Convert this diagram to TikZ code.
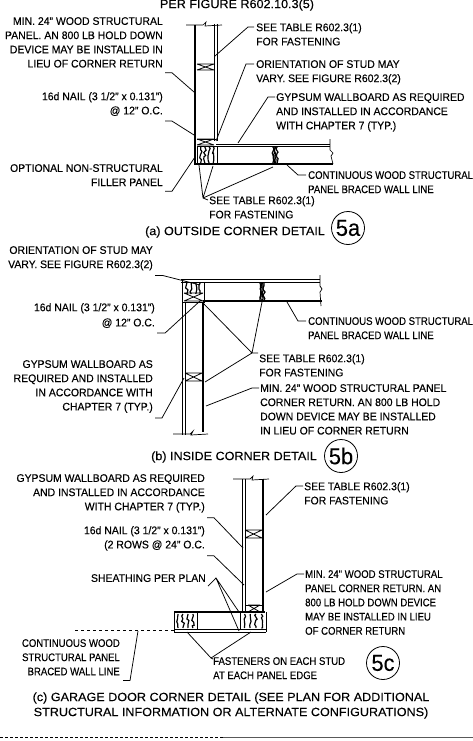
\documentclass[tikz,border=0pt]{standalone}
\usepackage{fontspec}
\setmainfont{Liberation Sans}[FakeStretch=0.95,FakeBold=0.15]
\newfontfamily\narrowfam{Liberation Sans}[FakeStretch=0.87,FakeBold=0.15]
\newfontfamily\widefam{Liberation Sans}[FakeStretch=1.05,FakeBold=0.15]
\usetikzlibrary{decorations.pathmorphing}
\newcommand{\lab}{\fontsize{11}{14.2}\selectfont}
\newcommand{\labn}{\narrowfam\fontsize{11}{14.2}\selectfont}
\newcommand{\captfont}{\widefam\fontsize{12}{15}\selectfont}
\tikzset{
  x=1pt,y=1pt,
  lr/.style={inner sep=0pt,font=\lab,align=right,anchor=north east},
  ll/.style={inner sep=0pt,font=\lab,align=left,anchor=north west},
  lln/.style={ll,font=\labn},
  lrn/.style={lr,font=\labn},
  capt/.style={inner sep=0pt,font=\captfont,align=center},
  lead/.style={line width=0.75pt},
  thin wall/.style={line width=0.7pt},
  thick wall/.style={line width=1.8pt},
  sheath/.style={line width=1.5pt,densely dotted},
  grain/.style={line width=1.2pt,decorate,decoration={random steps,segment length=2.5pt,amplitude=1.4pt}},
  badge/.style={circle,draw,line width=0.8pt,minimum size=33pt,inner sep=0pt,font=\fontsize{23}{23}\selectfont}
}
% wood grain: several wavy strokes in a rectangle
\newcommand{\grainbox}[4]{%
  \foreach \t in {0.15,0.38,0.62,0.85}{%
    \draw[grain] ({#1+\t*(#3-#1)},#2) -- ({#1+\t*(#3-#1)},#4);}}
% blocking with a cross
\newcommand{\crossbox}[4]{%
  \draw[line width=0.8pt] (#1,#2) -- (#3,#2) (#1,#4) -- (#3,#4) (#1,#2) -- (#3,#4) (#1,#4) -- (#3,#2);}
\begin{document}
\begin{tikzpicture}[y=-1pt,x=1pt]
\useasboundingbox (0,0) rectangle (473,741);
\fill[white] (0,0) rectangle (473,741);

% ---------- title
\node[capt] (title) at (237,5) {PER FIGURE R602.10.3(5)};

% ---------- detail a
\draw[thick wall] (195,25) -- (195,165);
\draw[thin wall] (214,24) -- (214,141) (217,24) -- (217,141);
\draw[thin wall] (186,25) -- (203,25) -- (206,22) -- (205,26) -- (222,25);
\crossbox{197}{64}{214}{70}
\draw[thin wall] (197,139) -- (216,139) (197,146) -- (216,146);
\crossbox{197}{139}{214}{145}
\draw[thin wall] (216,144) -- (330,144) (216,146) -- (330,146);
\draw[thick wall] (195,164) -- (333,164);
\draw[thin wall] (330,139) -- (330,150) -- (333,153) -- (331,156) -- (333,164);
\grainbox{198}{147}{216}{163}
\draw[thin wall] (197,147) -- (197,164) (217,146) -- (217,164);
\grainbox{272}{147}{278}{163}

\node[lr] (a1) at (163,17) {MIN. 24" WOOD STRUCTURAL\\PANEL. AN 800 LB HOLD DOWN\\DEVICE MAY BE INSTALLED IN\\LIEU OF CORNER RETURN};
\node[lr] (a2) at (163,92) {16d NAIL (3 1/2" x 0.131")\\@ 12" O.C.};
\node[lr] (a3) at (163,164) {OPTIONAL NON-STRUCTURAL\\FILLER PANEL};
\node[ll] (a4) at (256,23) {SEE TABLE R602.3(1)\\FOR FASTENING};
\node[ll] (a5) at (256,60) {ORIENTATION OF STUD MAY\\VARY. SEE FIGURE R602.3(2)};
\node[ll] (a6) at (276,93) {GYPSUM WALLBOARD AS REQUIRED\\AND INSTALLED IN ACCORDANCE\\WITH CHAPTER 7 (TYP.)};
\node[lln] (a7) at (308,171) {CONTINUOUS WOOD STRUCTURAL\\PANEL BRACED WALL LINE};
\node[ll] (a8) at (209,196) {SEE TABLE R602.3(1)\\FOR FASTENING};
\coordinate (pa1) at (194,92); \coordinate (pa2) at (194,135); \coordinate (pa3) at (195,157);
\coordinate (pa4) at (215,56); \coordinate (pa5) at (216,141); \coordinate (pa6) at (238,143);
\coordinate (pa7) at (287,165); \coordinate (ja8) at (203,198);
\coordinate (pa8a) at (199,165); \coordinate (pa8b) at (213,166); \coordinate (pa8c) at (273,167);
\draw[lead] ([yshift=-5pt]a1.south east) ++(2,0) -- ++(7,0) -- (pa1);
\draw[lead] ([yshift=-5pt]a2.south east) ++(2,0) -- ++(7,0) -- (pa2);
\draw[lead] ([yshift=-5pt]a3.south east) ++(2,0) -- ++(7,0) -- (pa3);
\draw[lead] ([yshift=-4pt]a4.north west) ++(-2,0) -- ++(-6,0) -- (pa4);
\draw[lead] ([yshift=-4pt]a5.north west) ++(-2,0) -- ++(-8,0) -- (pa5);
\draw[lead] ([yshift=-4pt]a6.north west) ++(-1,0) -- ++(-7,0) -- (pa6);
\draw[lead] ([yshift=-4pt]a7.north west) ++(-2,0) -- ++(-8,0) -- (pa7);
\draw[lead] (a8.north west) ++(-1,4) -- (ja8) -- (pa8a) (ja8) -- (pa8b) (ja8) -- (pa8c);
\node[capt] (capa) at (235,232) {(a) OUTSIDE CORNER DETAIL};
\node[badge] (b5a) at (348,228) {5a};

% ---------- detail b
\draw[thin wall] (182,279) -- (182,435) (185,302) -- (185,435);
\draw[thick wall] (203,302) -- (203,432);
\draw[thin wall] (173,434) -- (190,434) -- (193,431) -- (191,435) -- (208,434);
\crossbox{185}{373}{202}{381}
\draw[thin wall] (181,279) -- (320,279) (181,282) -- (320,282);
\draw[thick wall] (203,301) -- (322,301);
\draw[thin wall] (320,275) -- (320,286) -- (322,289) -- (320,292) -- (321,306);
\draw[thin wall] (182,279) -- (182,302) -- (204,302) -- (204,282);
\grainbox{184}{283}{203}{294}
\crossbox{184}{293}{203}{301}
\grainbox{259}{283}{265}{300}
\draw[thin wall] (204,283) -- (204,300);

\node[lr] (b1) at (153,246) {ORIENTATION OF STUD MAY\\VARY. SEE FIGURE R602.3(2)};
\node[lr] (b2) at (155,303) {16d NAIL (3 1/2" x 0.131")\\[1pt]@ 12" O.C.};
\node[lr] (b3) at (153,360) {GYPSUM WALLBOARD AS\\REQUIRED AND INSTALLED\\IN ACCORDANCE WITH\\CHAPTER 7 (TYP.)};
\node[ll] (b4) at (259,354) {SEE TABLE R602.3(1)\\FOR FASTENING};
\node[ll] (b5) at (260,384) {MIN. 24" WOOD STRUCTURAL PANEL\\CORNER RETURN. AN 800 LB HOLD\\DOWN DEVICE MAY BE INSTALLED\\IN LIEU OF CORNER RETURN};
\node[lln] (b6) at (308,317) {CONTINUOUS WOOD STRUCTURAL\\PANEL BRACED WALL LINE};
\coordinate (pb1) at (200,285); \coordinate (pb2) at (200,301); \coordinate (pb3) at (184,378);
\coordinate (jb4) at (252,353); \coordinate (pb4a) at (203,303); \coordinate (pb4b) at (262,302);
\coordinate (pb4c) at (205,382); \coordinate (pb5) at (206,406); \coordinate (pb6) at (287,302);
\draw[lead] ([yshift=-5pt]b1.south east) ++(2,0) -- ++(8,0) -- (pb1);
\draw[lead] ([yshift=-5pt]b2.south east) ++(2,0) -- ++(8,0) -- (pb2);
\draw[lead] ([yshift=-5pt]b3.south east) ++(2,0) -- ++(7,0) -- (pb3);
\draw[lead] (b4.north west) ++(-1,-1) -- (jb4) -- (pb4a) (jb4) -- (pb4b) (jb4) -- (pb4c);
\draw[lead] (b5.north west) ++(-1,4) -- ++(-7,0) -- (pb5);
\draw[lead] ([yshift=-4pt]b6.north west) ++(-2,0) -- ++(-8,0) -- (pb6);
\node[capt] (capb) at (234,457) {(b) INSIDE CORNER DETAIL};
\node[badge] (b5b) at (341,456) {5b};

% ---------- detail c
\draw[thin wall] (242,479) -- (242,612) (245,479) -- (245,612);
\draw[thick wall] (263,479) -- (263,612);
\draw[thin wall] (233,479) -- (250,479) -- (253,476) -- (252,480) -- (269,479);
\crossbox{245}{530}{262}{538}
\draw[thin wall] (245,605) -- (262,605);
\crossbox{248}{605}{260}{612}
\draw[thick wall] (174,612) -- (265,612);
\draw[thin wall] (174,629) -- (266,629) (174,632) -- (266,632) (174,612) -- (174,632);
\draw[thin wall] (197,613) -- (197,629) (240,613) -- (240,629) (266,612) -- (266,632);
\grainbox{175}{614}{196}{628}
\grainbox{241}{614}{265}{628}
\draw[lead,dashed] (75,630) -- (174,630);

\node[lr] (c1) at (205,474) {GYPSUM WALLBOARD AS REQUIRED\\AND INSTALLED IN ACCORDANCE\\WITH CHAPTER 7 (TYP.)};
\node[lr] (c2) at (205,526) {16d NAIL (3 1/2" x 0.131")\\(2 ROWS @ 24" O.C.};
\node[lr] (c3) at (206,574) {SHEATHING PER PLAN};
\node[lrn] (c4) at (120,639) {CONTINUOUS WOOD\\STRUCTURAL PANEL\\BRACED WALL LINE};
\node[ll] (c5) at (304,482) {SEE TABLE R602.3(1)\\FOR FASTENING};
\node[lln] (c6) at (305,570) {MIN. 24" WOOD STRUCTURAL\\PANEL CORNER RETURN. AN\\800 LB HOLD DOWN DEVICE\\MAY BE INSTALLED IN LIEU\\OF CORNER RETURN};
\node[lln] (c7) at (213,657) {FASTENERS ON EACH STUD\\AT EACH PANEL EDGE};
\coordinate (pc1) at (243,548); \coordinate (pc2) at (244,585);
\coordinate (pc3a) at (239,612); \coordinate (pc3b) at (239,631); \coordinate (jc3) at (216,578);
\coordinate (pc4) at (138,631); \coordinate (pc5) at (266,515); \coordinate (pc6) at (266,592);
\coordinate (jc7) at (211,658); \coordinate (pc7a) at (187,632); \coordinate (pc7b) at (251,632);
\draw[lead] ([yshift=-5pt]c1.south east) ++(2,0) -- ++(7,0) -- (pc1);
\draw[lead] ([yshift=-5pt]c2.south east) ++(2,0) -- ++(7,0) -- (pc2);
\draw[lead] ([yshift=-4pt]c3.south east) ++(2,0) -- (jc3) -- (pc3a) (jc3) -- (pc3b);
\draw[lead] ([yshift=-5pt]c4.south east) ++(3,0) -- ++(7,0) -- (pc4);
\draw[lead] ([yshift=-4pt]c5.north west) ++(-1,0) -- ++(-7,0) -- (pc5);
\draw[lead] ([yshift=-4pt]c6.north west) ++(-1,0) -- ++(-7,0) -- (pc6);
\draw[lead] (c7.north west) ++(0,2) -- (jc7) -- (pc7a) (jc7) -- (pc7b);
\node[capt] (capc) at (231,705.5) {(c) GARAGE DOOR CORNER DETAIL (SEE PLAN FOR ADDITIONAL\\STRUCTURAL INFORMATION OR ALTERNATE CONFIGURATIONS)};
\node[badge] (b5c) at (383,663) {5c};

% ---------- page edge
\draw[line width=0.7pt,densely dashed] (0,737) -- (223,737);
\draw[line width=1pt,black!65] (223,737) -- (473,737);
\end{tikzpicture}
\end{document}
